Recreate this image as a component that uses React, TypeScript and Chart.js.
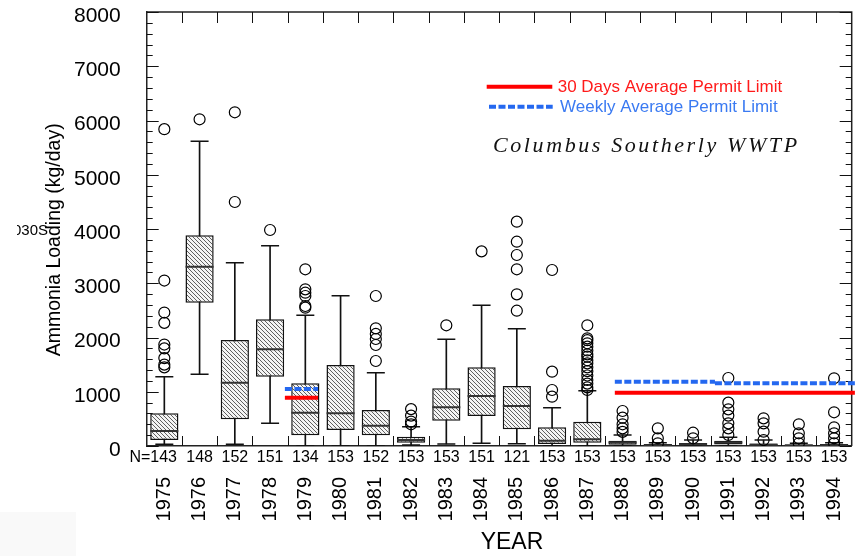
import { useEffect, useRef } from 'react';
import { Chart, registerables } from 'chart.js';

Chart.register(...registerables);

// Daily ammonia loading summaries (kg/day), one entry per year
const years = ['1975', '1976', '1977', '1978', '1979', '1980', '1981', '1982', '1983', '1984',
  '1985', '1986', '1987', '1988', '1989', '1990', '1991', '1992', '1993', '1994'];
const sampleCounts = [143, 148, 152, 151, 134, 153, 152, 153, 153, 151,
  121, 153, 153, 153, 153, 153, 153, 153, 153, 153];
const whiskerLow = [30, 1321, 31, 418, 0, 0, 0, 20, 37, 49, 43, 0, 0, 0, 0, 0, 0, 0, 0, 0];
const quartile1 = [110, 2642, 492, 1278, 197, 295, 197, 61, 467, 553, 307, 37, 61, 24, 5, 10, 28, 10, 5, 5];
const medians = [276, 3305, 1167, 1782, 614, 603, 375, 110, 713, 922, 737, 98, 123, 65, 15, 30, 65, 25, 12, 15];
const quartile3 = [603, 3884, 1954, 2335, 1155, 1493, 664, 172, 1063, 1450, 1106, 344, 448, 98, 37, 55, 98, 45, 25, 35];
const whiskerHigh = [1278, 5617, 3379, 3692, 2409, 2771, 1352, 356, 1967, 2593, 2163, 706, 1020, 203, 60, 110, 160, 110, 50, 60];
const outliers: number[][] = [
  [5840, 3050, 2460, 2270, 1870, 1800, 1620, 1500, 1450],
  [6022],
  [6151, 4498],
  [3982],
  [3257, 2888, 2826, 2765, 2581, 2550],
  [],
  [2765, 2169, 2065, 1972, 1862, 1567],
  [680, 560, 450, 400],
  [2225],
  [3588],
  [4135, 3766, 3521, 3257, 2796, 2494],
  [3244, 1370, 1032, 909],
  [2225, 1985, 1950, 1893, 1830, 1760, 1690, 1646, 1580, 1524, 1450, 1380, 1300, 1217, 1150, 1080, 1032],
  [645, 522, 400, 326, 260],
  [326, 142, 50],
  [245, 142],
  [1253, 799, 676, 560, 418, 326, 203],
  [510, 418, 264, 110],
  [400, 234, 142, 50],
  [1248, 621, 344, 234, 142, 50],
];

// Permit limit segments: [from year index, to year index, kg/day]
const monthlyLimitSegments = [[3.42, 4.36, 891], [12.78, 19.59, 983]];
const weeklyLimitSegments = [[3.42, 4.36, 1051], [12.78, 15.62, 1186], [15.62, 19.59, 1155]];

const yTicks = [0, 1000, 2000, 3000, 4000, 5000, 6000, 7000, 8000];

const SANS = '"Liberation Sans", Arial, sans-serif';
const SERIF = '"Liberation Serif", "Times New Roman", serif';
const NBSP = '\u00A0';

function segmentsToPoints(segments: number[][]) {
  const pts: { x: number; y: number | null }[] = [];
  segments.forEach(([from, to, value], k) => {
    if (k > 0) pts.push({ x: from, y: null });
    pts.push({ x: from, y: value }, { x: to, y: value });
  });
  return pts;
}

function makeHatch(ctx: CanvasRenderingContext2D) {
  const tile = document.createElement('canvas');
  tile.width = 4;
  tile.height = 4;
  const t = tile.getContext('2d')!;
  t.fillStyle = '#f4f4f4';
  t.fillRect(0, 0, 4, 4);
  t.strokeStyle = '#606060';
  t.lineWidth = 1;
  t.beginPath();
  t.moveTo(0, 0); t.lineTo(4, 4);
  t.moveTo(-1, 3); t.lineTo(1, 5);
  t.moveTo(3, -1); t.lineTo(5, 1);
  t.stroke();
  return ctx.createPattern(tile, 'repeat')!;
}

// Keep the plot area exactly where the axes boxes put it
const noScalePadding = (s: any) => {
  s.paddingTop = 0;
  s.paddingBottom = 0;
  s.paddingLeft = 0;
  s.paddingRight = 0;
};

// Closed frame with inward tick marks on all four sides
const framePlugin = {
  id: 'frame',
  beforeDatasetsDraw(chart: any) {
    const { ctx, chartArea, scales } = chart;
    const { left, right, top, bottom } = chartArea;
    const y = scales.y;
    const x = scales.x;
    ctx.save();
    ctx.strokeStyle = '#222';
    ctx.lineWidth = 1.5;
    ctx.beginPath();
    ctx.moveTo(left, top);
    ctx.lineTo(right, top);
    ctx.lineTo(right, bottom);
    ctx.stroke();

    ctx.strokeStyle = '#111';
    ctx.lineWidth = 1;
    ctx.beginPath();
    for (let v = 0; v <= 8000; v += 200) {
      const py = Math.round(y.getPixelForValue(v)) + 0.5;
      const len = v % 1000 === 0 ? 12 : 6;
      ctx.moveTo(left, py); ctx.lineTo(left + len, py);
      ctx.moveTo(right, py); ctx.lineTo(right - len, py);
    }
    for (let i = 1; i < years.length; i++) {
      const px = Math.round((x.getPixelForValue(i - 1) + x.getPixelForValue(i)) / 2) + 0.5;
      ctx.moveTo(px, top); ctx.lineTo(px, top + 11);
      ctx.moveTo(px, bottom); ctx.lineTo(px, bottom - 10);
    }
    ctx.stroke();
    ctx.restore();
  },
};

// Legend keys, plant name and the stray side label
const annotationPlugin = {
  id: 'annotations',
  afterDraw(chart: any) {
    const { ctx, chartArea } = chart;
    const ox = chartArea.left;
    const oy = chartArea.top;
    ctx.save();

    ctx.lineWidth = 4;
    ctx.strokeStyle = '#ff0000';
    ctx.beginPath();
    ctx.moveTo(ox + 340, oy + 74.7);
    ctx.lineTo(ox + 405.6, oy + 74.7);
    ctx.stroke();

    ctx.strokeStyle = '#2468f0';
    ctx.setLineDash([7, 2.5]);
    ctx.beginPath();
    ctx.moveTo(ox + 342.3, oy + 94.7);
    ctx.lineTo(ox + 406, oy + 94.7);
    ctx.stroke();
    ctx.setLineDash([]);

    ctx.font = `17px ${SANS}`;
    ctx.textBaseline = 'middle';
    ctx.textAlign = 'left';
    ctx.fillStyle = '#ff1a1a';
    ctx.fillText('30 Days Average Permit Limit', ox + 411, oy + 75);
    ctx.fillStyle = '#3a7af2';
    ctx.fillText('Weekly Average Permit Limit', ox + 413.3, oy + 95);

    ctx.fillStyle = '#111';
    ctx.font = `italic 22px ${SERIF}`;
    (ctx as any).letterSpacing = '2.6px';
    ctx.fillText('Columbus Southerly WWTP', ox + 346.3, oy + 134);
    (ctx as any).letterSpacing = '0px';

    ctx.beginPath();
    ctx.rect(17, 215, 40, 30);
    ctx.clip();
    ctx.font = `15px ${SANS}`;
    ctx.fillStyle = '#000';
    ctx.textAlign = 'right';
    ctx.fillText('030S', 48, 230.5);
    ctx.restore();
  },
};

export default function App() {
  const canvasRef = useRef<HTMLCanvasElement | null>(null);

  useEffect(() => {
    document.body.style.margin = '0';
    const canvas = canvasRef.current!;
    const ctx = canvas.getContext('2d')!;
    const hatch = makeHatch(ctx);

    const nLabels = sampleCounts.map((n, i) =>
      i === 0 ? `N=${n}${NBSP.repeat(5)}` : String(n));

    const chart = new Chart(canvas, {
      type: 'bar',
      data: {
        labels: nLabels,
        datasets: [
          {
            type: 'bar',
            data: years.map((_, i) => [whiskerLow[i], whiskerHigh[i]]),
            xAxisID: 'x',
            yAxisID: 'y',
            backgroundColor: '#111',
            borderWidth: 0,
            barThickness: 1,
            grouped: false,
            order: 6,
          },
          {
            type: 'bar',
            data: years.map((_, i) => [quartile1[i], quartile3[i]]),
            xAxisID: 'x',
            yAxisID: 'y',
            backgroundColor: hatch,
            borderColor: '#111',
            borderWidth: 1.5,
            borderSkipped: false,
            barPercentage: 0.8,
            categoryPercentage: 1,
            grouped: false,
            order: 5,
          },
          {
            type: 'scatter',
            data: years.flatMap((_, i) => [
              { x: i, y: whiskerLow[i] },
              { x: i, y: whiskerHigh[i] },
            ]),
            xAxisID: 'x2',
            yAxisID: 'y',
            pointStyle: 'line',
            pointRadius: 9,
            borderColor: '#111',
            borderWidth: 1.5,
            order: 4,
          },
          {
            type: 'scatter',
            data: years.map((_, i) => ({ x: i, y: medians[i] })),
            xAxisID: 'x2',
            yAxisID: 'y',
            pointStyle: 'line',
            pointRadius: 14,
            borderColor: '#333',
            borderWidth: 2,
            order: 3,
          },
          {
            type: 'scatter',
            data: outliers.flatMap((vals, i) => vals.map((v) => ({ x: i, y: v }))),
            xAxisID: 'x2',
            yAxisID: 'y',
            pointStyle: 'circle',
            pointRadius: 5.5,
            borderColor: '#000',
            borderWidth: 1.2,
            backgroundColor: 'rgba(0,0,0,0)',
            order: 2,
          },
          {
            type: 'line',
            data: segmentsToPoints(weeklyLimitSegments),
            xAxisID: 'x2',
            yAxisID: 'y',
            borderColor: '#2468f0',
            borderWidth: 4,
            borderDash: [7, 2.5],
            pointRadius: 0,
            spanGaps: false,
            clip: false,
            order: 1,
          },
          {
            type: 'line',
            data: segmentsToPoints(monthlyLimitSegments),
            xAxisID: 'x2',
            yAxisID: 'y',
            borderColor: '#ff0000',
            borderWidth: 4,
            pointRadius: 0,
            spanGaps: false,
            clip: false,
            order: 0,
          },
        ] as any,
      },
      options: {
        responsive: false,
        animation: false,
        events: [],
        layout: { autoPadding: false, padding: { left: 0, right: 5.3, top: 12, bottom: 0 } },
        plugins: {
          legend: { display: false },
          tooltip: { enabled: false },
        },
        scales: {
          x: {
            type: 'category',
            position: 'bottom',
            offset: true,
            weight: 0,
            grid: { display: false, drawTicks: false },
            border: { display: true, color: '#222', width: 1.5 },
            ticks: {
              font: { family: SANS, size: 16 },
              color: '#000',
              padding: 2,
              autoSkip: false,
              maxRotation: 0,
              minRotation: 0,
            },
            afterFit: (s: any) => { s.height = 24; noScalePadding(s); },
          },
          xYear: {
            type: 'category',
            labels: years,
            position: 'bottom',
            offset: true,
            weight: 1,
            grid: { display: false, drawTicks: false },
            border: { display: false },
            ticks: {
              font: { family: SANS, size: 20 },
              color: '#000',
              padding: 7,
              autoSkip: false,
              maxRotation: 90,
              minRotation: 90,
            },
            title: {
              display: true,
              text: `${NBSP.repeat(4)}YEAR`,
              font: { family: SANS, size: 23 },
              color: '#000',
              padding: { top: 0, bottom: 0 },
            },
            afterFit: (s: any) => { s.height = 86; noScalePadding(s); },
          },
          x2: {
            type: 'linear',
            min: -0.5,
            max: 19.5,
            offset: false,
            grid: { offset: false },
            display: false,
          },
          y: {
            type: 'linear',
            min: 0,
            max: 8000,
            afterBuildTicks: (s: any) => { s.ticks = yTicks.map((v) => ({ value: v })); },
            grid: { display: false, drawTicks: false },
            border: { display: true, color: '#222', width: 1.5 },
            ticks: {
              font: { family: SANS, size: 21 },
              color: '#000',
              padding: 26,
              labelOffset: 4,
              callback: (v: any) => String(v),
            },
            title: {
              display: true,
              text: `Ammonia Loading (kg/day)${NBSP.repeat(4)}`,
              font: { family: SANS, size: 19.5 },
              color: '#000',
              padding: { top: 43.3, bottom: 0 },
            },
            afterFit: (s: any) => { s.width = 146.7; noScalePadding(s); },
          },
        },
      } as any,
      plugins: [framePlugin, annotationPlugin],
    });

    return () => chart.destroy();
  }, []);

  return (
    <div style={{ position: 'relative', width: 857, height: 556, background: '#fff' }}>
      <div style={{ position: 'absolute', left: 0, top: 512, width: 76, height: 44, background: '#f9f9f9' }} />
      <canvas
        ref={canvasRef}
        width={857}
        height={556}
        style={{ position: 'absolute', left: 0, top: 0, display: 'block' }}
      />
    </div>
  );
}
